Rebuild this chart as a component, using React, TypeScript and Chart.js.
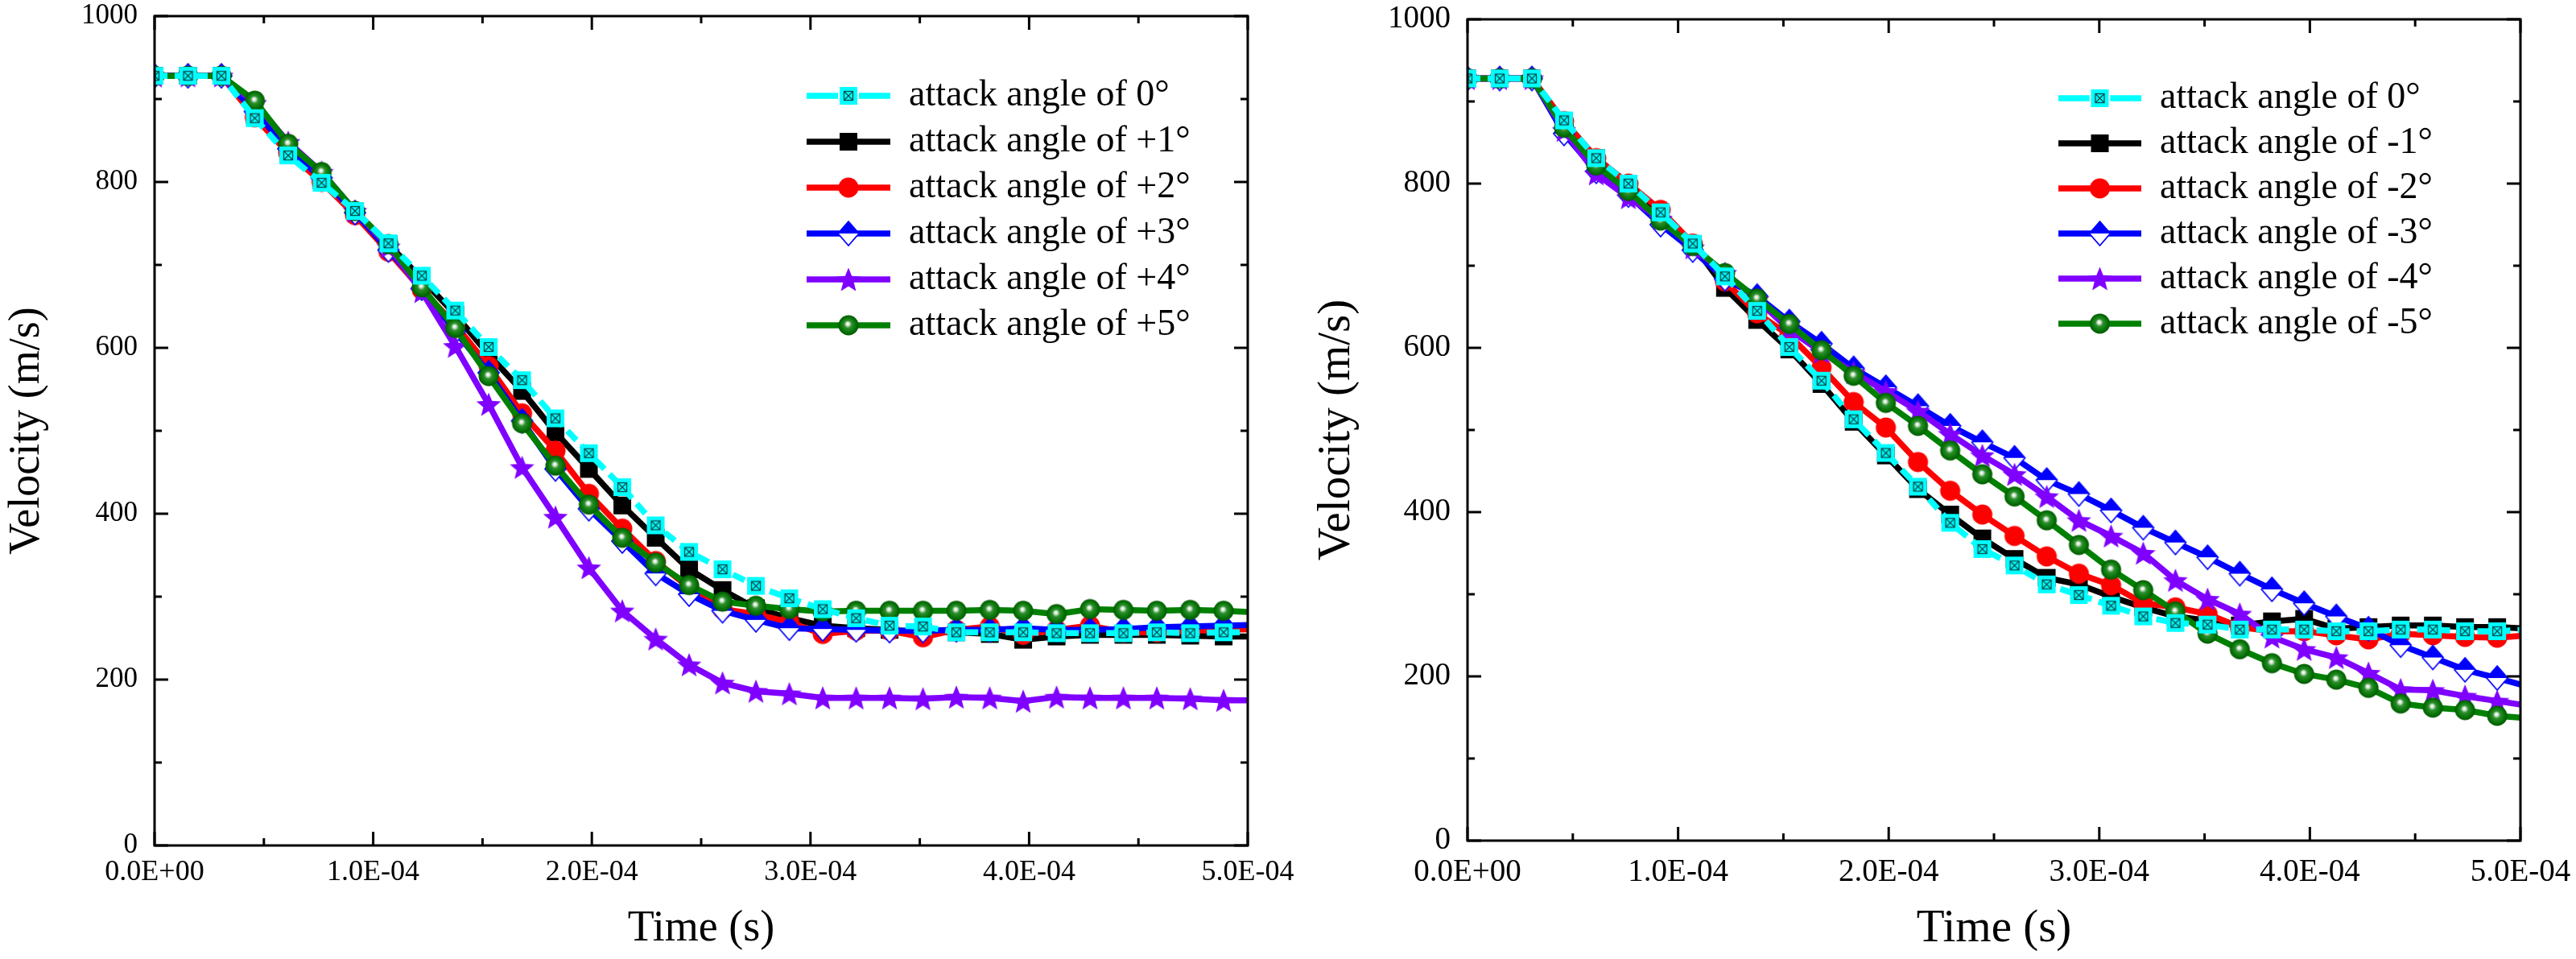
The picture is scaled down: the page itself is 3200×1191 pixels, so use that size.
import React, { useEffect, useRef } from 'react';
import { Chart, registerables } from 'chart.js';

Chart.register(...registerables);

// ---------------- data ----------------
const TIME_S = [
  0, 1.528e-5, 3.056e-5, 4.584e-5, 6.112e-5, 7.64e-5, 9.168e-5, 1.0696e-4, 1.2224e-4, 1.3752e-4,
  1.528e-4, 1.6808e-4, 1.8336e-4, 1.9864e-4, 2.1392e-4, 2.292e-4, 2.4448e-4, 2.5976e-4, 2.7504e-4,
  2.9032e-4, 3.056e-4, 3.2088e-4, 3.3616e-4, 3.5144e-4, 3.6672e-4, 3.82e-4, 3.9728e-4, 4.1256e-4,
  4.2784e-4, 4.4312e-4, 4.584e-4, 4.7368e-4, 4.8896e-4, 5.0424e-4,
];

const LEFT_LABELS = [
  'attack angle of 0°', 'attack angle of +1°', 'attack angle of +2°',
  'attack angle of +3°', 'attack angle of +4°', 'attack angle of +5°',
];
const RIGHT_LABELS = [
  'attack angle of 0°', 'attack angle of -1°', 'attack angle of -2°',
  'attack angle of -3°', 'attack angle of -4°', 'attack angle of -5°',
];

const LEFT_0 = [928, 928, 928, 877, 832, 799, 765, 726, 687, 645, 601, 561, 515, 473, 432, 386, 354, 333, 313, 298, 285, 274, 265, 264, 257, 257, 257, 256, 256, 256, 257, 256, 257, 257];
const LEFT_P1 = [928, 928, 928, 880, 835, 802, 765, 725, 683, 640, 592, 548, 498, 454, 410, 371, 333, 308, 286, 274, 265, 262, 260, 257, 257, 255, 248, 252, 254, 254, 254, 253, 252, 252];
const LEFT_P2 = [928, 928, 928, 878, 835, 800, 760, 716, 670, 628, 578, 521, 476, 424, 382, 343, 311, 285, 279, 269, 255, 259, 259, 251, 260, 264, 254, 260, 265, 257, 257, 259, 260, 261];
const LEFT_P3 = [928, 928, 928, 885, 840, 805, 763, 718, 672, 620, 570, 512, 454, 406, 367, 328, 303, 283, 272, 262, 261, 260, 259, 259, 260, 260, 262, 260, 260, 261, 263, 264, 265, 266];
const LEFT_P4 = [928, 928, 928, 895, 848, 812, 765, 722, 668, 602, 532, 456, 396, 335, 283, 249, 218, 196, 186, 183, 178, 178, 178, 177, 179, 178, 174, 179, 178, 178, 178, 177, 175, 175];
const LEFT_P5 = [928, 928, 928, 898, 846, 812, 765, 725, 673, 624, 566, 509, 458, 411, 371, 341, 314, 294, 289, 285, 282, 283, 283, 283, 283, 284, 283, 279, 285, 284, 283, 284, 283, 281];

const RIGHT_0 = [928, 928, 928, 877, 831, 800, 765, 727, 687, 645, 601, 560, 513, 472, 431, 387, 355, 335, 312, 299, 286, 273, 265, 263, 257, 257, 257, 255, 255, 257, 257, 255, 255, 257];
const RIGHT_M1 = [928, 928, 928, 876, 831, 800, 765, 726, 673, 634, 598, 556, 510, 469, 428, 397, 368, 343, 320, 312, 297, 284, 273, 268, 262, 267, 270, 258, 260, 262, 262, 260, 260, 258];
const RIGHT_M2 = [928, 928, 928, 876, 831, 800, 768, 727, 681, 642, 615, 576, 534, 503, 461, 426, 397, 371, 346, 325, 311, 289, 284, 276, 260, 255, 255, 250, 245, 252, 250, 248, 247, 250];
const RIGHT_M3 = [928, 928, 928, 861, 815, 786, 750, 719, 684, 663, 632, 605, 575, 552, 529, 505, 485, 466, 439, 422, 402, 381, 363, 345, 325, 306, 289, 273, 258, 238, 223, 208, 198, 187];
const RIGHT_M4 = [928, 928, 928, 865, 812, 783, 757, 722, 691, 659, 622, 595, 570, 547, 523, 495, 469, 446, 419, 390, 371, 350, 317, 294, 276, 248, 233, 223, 204, 184, 183, 176, 170, 164];
const RIGHT_M5 = [928, 928, 928, 868, 822, 791, 755, 724, 691, 660, 629, 597, 566, 533, 505, 475, 446, 419, 390, 360, 330, 305, 279, 252, 233, 216, 203, 196, 186, 167, 162, 159, 152, 149];

const X_MAJOR = [0, 1e-4, 2e-4, 3e-4, 4e-4, 5e-4];
const X_MINOR = [5e-5, 1.5e-4, 2.5e-4, 3.5e-4, 4.5e-4];
const Y_MAJOR = [0, 200, 400, 600, 800, 1000];
const Y_MINOR = [100, 300, 500, 700, 900];
const X_TITLE = 'Time (s)';
const Y_TITLE = 'Velocity (m/s)';

// ---------------- styles ----------------
const COLORS = ['#00FFFF', '#000000', '#FF0000', '#0000FF', '#8000FF', '#008000'];
const DRAW_ORDER = [0, 5, 4, 3, 2, 1];
const FONT = 'Liberation Serif';
const LINE_W = 7.5;

function paintMarker(ctx: CanvasRenderingContext2D, kind: number, cx: number, cy: number) {
  ctx.save();
  switch (kind) {
    case 0: {
      const s = 22;
      ctx.fillStyle = '#00FFFF';
      ctx.fillRect(cx - s / 2, cy - s / 2, s, s);
      ctx.strokeStyle = '#0a4a4a';
      ctx.lineWidth = 1.3;
      const a = 5.5;
      ctx.strokeRect(cx - a, cy - a, 2 * a, 2 * a);
      ctx.beginPath();
      ctx.moveTo(cx - a, cy - a); ctx.lineTo(cx + a, cy + a);
      ctx.moveTo(cx + a, cy - a); ctx.lineTo(cx - a, cy + a);
      ctx.stroke();
      break;
    }
    case 1: {
      ctx.fillStyle = '#000';
      ctx.fillRect(cx - 11, cy - 11, 22, 22);
      break;
    }
    case 2: {
      ctx.fillStyle = '#FF0000';
      ctx.beginPath(); ctx.arc(cx, cy, 12.5, 0, Math.PI * 2); ctx.fill();
      break;
    }
    case 3: {
      const w = 13, h = 15;
      ctx.beginPath();
      ctx.moveTo(cx, cy - h); ctx.lineTo(cx + w, cy); ctx.lineTo(cx, cy + h); ctx.lineTo(cx - w, cy); ctx.closePath();
      ctx.fillStyle = '#fff'; ctx.fill();
      ctx.beginPath();
      ctx.moveTo(cx, cy - h); ctx.lineTo(cx + w, cy); ctx.lineTo(cx - w, cy); ctx.closePath();
      ctx.fillStyle = '#0000FF'; ctx.fill();
      ctx.beginPath();
      ctx.moveTo(cx, cy - h); ctx.lineTo(cx + w, cy); ctx.lineTo(cx, cy + h); ctx.lineTo(cx - w, cy); ctx.closePath();
      ctx.strokeStyle = '#0000FF'; ctx.lineWidth = 1.8; ctx.stroke();
      break;
    }
    case 4: {
      const R = 16, r = 7;
      ctx.beginPath();
      for (let i = 0; i < 10; i++) {
        const ang = -Math.PI / 2 + (i * Math.PI) / 5;
        const rad = i % 2 === 0 ? R : r;
        const px = cx + rad * Math.cos(ang), py = cy + 1.5 + rad * Math.sin(ang);
        if (i === 0) ctx.moveTo(px, py); else ctx.lineTo(px, py);
      }
      ctx.closePath();
      ctx.fillStyle = '#8000FF'; ctx.fill();
      break;
    }
    case 5: {
      const g = ctx.createRadialGradient(cx - 1, cy - 2, 0.3, cx, cy, 12.5);
      g.addColorStop(0, '#ffffff');
      g.addColorStop(0.14, '#d6e9d6');
      g.addColorStop(0.36, '#2e8f2e');
      g.addColorStop(0.7, '#0b780b');
      g.addColorStop(1, '#005800');
      ctx.fillStyle = g;
      ctx.beginPath(); ctx.arc(cx, cy, 12.5, 0, Math.PI * 2); ctx.fill();
      break;
    }
  }
  ctx.restore();
}

function markerImage(kind: number): HTMLCanvasElement {
  const c = document.createElement('canvas');
  c.width = 38; c.height = 38;
  paintMarker(c.getContext('2d')!, kind, 19, 19);
  return c;
}

function legendImage(kind: number, w: number): HTMLCanvasElement {
  const c = document.createElement('canvas');
  c.width = w; c.height = 38;
  const ctx = c.getContext('2d')!;
  ctx.strokeStyle = COLORS[kind];
  ctx.lineWidth = 7.5;
  ctx.beginPath();
  if (kind === 0) {
    ctx.moveTo(0, 19); ctx.lineTo(w * 0.375, 19);
    ctx.moveTo(w * 0.625, 19); ctx.lineTo(w, 19);
  } else {
    ctx.moveTo(0, 19); ctx.lineTo(w, 19);
  }
  ctx.stroke();
  paintMarker(ctx, kind, w / 2, 19);
  return c;
}

const fmtExp = (v: number) => {
  const [m, e] = Number(v).toExponential(1).split('e');
  const n = parseInt(e, 10);
  return `${m}E${n < 0 ? '-' : '+'}${String(Math.abs(n)).padStart(2, '0')}`;
};

const innerFrame = {
  id: 'innerFrame',
  afterDraw(chart: any) {
    const { ctx, chartArea: a, scales } = chart;
    const xs = scales.x, ys = scales.y;
    ctx.save();
    ctx.strokeStyle = '#000';
    ctx.lineWidth = 3;
    ctx.lineCap = 'butt';
    const seg = (x1: number, y1: number, x2: number, y2: number) => {
      ctx.beginPath(); ctx.moveTo(x1, y1); ctx.lineTo(x2, y2); ctx.stroke();
    };
    const MAJ = 17, MIN = 9;
    const xt = (vals: number[], len: number) => vals.forEach((v) => {
      const px = xs.getPixelForValue(v);
      seg(px, a.bottom, px, a.bottom - len);
      seg(px, a.top, px, a.top + len);
    });
    const yt = (vals: number[], len: number) => vals.forEach((v) => {
      const py = ys.getPixelForValue(v);
      seg(a.left, py, a.left + len, py);
      seg(a.right, py, a.right - len, py);
    });
    xt(X_MAJOR, MAJ); xt(X_MINOR, MIN); yt(Y_MAJOR, MAJ); yt(Y_MINOR, MIN);
    ctx.strokeRect(a.left, a.top, a.right - a.left, a.bottom - a.top);
    ctx.restore();
  },
};

const legendPlacer = {
  id: 'legendPlacer',
  afterLayout(chart: any, _args: any, opts: any) {
    const lg = chart.legend;
    if (!lg) return;
    const w = lg.width, h = lg.height;
    lg.left = opts.x; lg.top = opts.y; lg.right = opts.x + w; lg.bottom = opts.y + h;
  },
};

interface PanelSpec {
  series: number[][];
  labels: string[];
  canvasX: number; canvasW: number;
  padTop: number; padRight: number;
  yAxisW: number; xAxisH: number;
  yTickFont: number; yTickPad: number;
  xTickFont: number; xTickPad: number;
  titleFont: number; yTitlePad: number; xTitlePad: number;
  legendX: number; legendY: number; legendPad: number; legendFont: number; legendBox: number;
}

const LEFT_SPEC: PanelSpec = {
  series: [LEFT_0, LEFT_P1, LEFT_P2, LEFT_P3, LEFT_P4, LEFT_P5],
  labels: LEFT_LABELS,
  canvasX: 0, canvasW: 1700,
  padTop: 20, padRight: 150,
  yAxisW: 192, xAxisH: 141,
  yTickFont: 35, yTickPad: 21,
  xTickFont: 36, xTickPad: 12,
  titleFont: 54, yTitlePad: 1, xTitlePad: 5,
  legendX: 991, legendY: 85, legendPad: 11, legendFont: 46, legendBox: 104,
};

const RIGHT_SPEC: PanelSpec = {
  series: [RIGHT_0, RIGHT_M1, RIGHT_M2, RIGHT_M3, RIGHT_M4, RIGHT_M5],
  labels: RIGHT_LABELS,
  canvasX: 1560, canvasW: 1640,
  padTop: 24, padRight: 69,
  yAxisW: 263, xAxisH: 147,
  yTickFont: 39, yTickPad: 21,
  xTickFont: 39, xTickPad: 16,
  titleFont: 57, yTitlePad: 67, xTitlePad: 3,
  legendX: 987, legendY: 89, legendPad: 10, legendFont: 46, legendBox: 103,
};

function buildConfig(spec: PanelSpec): any {
  const last = TIME_S.length - 1;
  const markers = COLORS.map((_, i) => markerImage(i));
  const legendIcons = COLORS.map((_, i) => legendImage(i, spec.legendBox));
  const datasets = spec.series.map((vals, i) => ({
    label: spec.labels[i],
    data: TIME_S.map((t, k) => ({ x: t, y: vals[k] })),
    borderColor: COLORS[i],
    backgroundColor: COLORS[i],
    borderWidth: LINE_W,
    borderDash: i === 0 ? [16, 9] : [],
    borderCapStyle: 'butt',
    borderJoinStyle: 'miter',
    tension: 0,
    fill: false,
    pointStyle: markers[i],
    pointRadius: (c: any) => (c.dataIndex === last ? 0 : 11),
    pointBorderWidth: 0,
    pointHoverRadius: 0,
    order: DRAW_ORDER[i],
  }));
  return {
    type: 'line',
    data: { datasets },
    plugins: [legendPlacer, innerFrame],
    options: {
      responsive: false,
      animation: false,
      events: [],
      layout: { padding: { left: 0, top: spec.padTop, right: spec.padRight, bottom: 0 } },
      scales: {
        x: {
          type: 'linear',
          min: 0,
          max: 5e-4,
          afterBuildTicks: (s: any) => { s.ticks = X_MAJOR.map((v) => ({ value: v })); },
          afterFit: (s: any) => { s.height = spec.xAxisH; s.paddingLeft = 0; s.paddingRight = 0; },
          grid: { display: false, drawTicks: false },
          border: { display: false },
          ticks: {
            callback: (v: any) => fmtExp(Number(v)),
            font: { family: FONT, size: spec.xTickFont },
            color: '#000',
            padding: spec.xTickPad,
            maxRotation: 0,
            minRotation: 0,
            autoSkip: false,
          },
          title: {
            display: true,
            text: X_TITLE,
            color: '#000',
            font: { family: FONT, size: spec.titleFont },
            padding: { top: 0, bottom: spec.xTitlePad },
          },
        },
        y: {
          type: 'linear',
          min: 0,
          max: 1000,
          afterBuildTicks: (s: any) => { s.ticks = Y_MAJOR.map((v) => ({ value: v })); },
          afterFit: (s: any) => { s.width = spec.yAxisW; s.paddingTop = 0; s.paddingBottom = 0; },
          grid: { display: false, drawTicks: false },
          border: { display: false },
          ticks: {
            callback: (v: any) => String(v),
            font: { family: FONT, size: spec.yTickFont },
            color: '#000',
            padding: spec.yTickPad,
            autoSkip: false,
          },
          title: {
            display: true,
            text: Y_TITLE,
            color: '#000',
            font: { family: FONT, size: spec.titleFont },
            padding: { top: spec.yTitlePad, bottom: 0 },
          },
        },
      },
      plugins: {
        tooltip: { enabled: false },
        legendPlacer: { x: spec.legendX, y: spec.legendY },
        legend: {
          display: true,
          position: 'chartArea',
          align: 'start',
          labels: {
            usePointStyle: true,
            pointStyleWidth: spec.legendBox,
            padding: spec.legendPad,
            color: '#000',
            font: { family: FONT, size: spec.legendFont },
            generateLabels: (chart: any) => chart.data.datasets.map((ds: any, i: number) => ({
              text: ds.label,
              pointStyle: legendIcons[i],
              fillStyle: 'rgba(0,0,0,0)',
              strokeStyle: 'rgba(0,0,0,0)',
              lineWidth: 0,
              hidden: false,
              datasetIndex: i,
              fontColor: '#000',
              textAlign: 'left',
            })),
          },
        },
      },
    },
  };
}

function Panel({ spec }: { spec: PanelSpec }) {
  const ref = useRef<HTMLCanvasElement | null>(null);
  useEffect(() => {
    if (!ref.current) return;
    const chart = new Chart(ref.current, buildConfig(spec));
    return () => chart.destroy();
  }, [spec]);
  return (
    <canvas
      ref={ref}
      width={spec.canvasW}
      height={1191}
      style={{ position: 'absolute', left: spec.canvasX, top: 0, width: spec.canvasW, height: 1191 }}
    />
  );
}

export default function App() {
  return (
    <div style={{ position: 'absolute', left: 0, top: 0, width: 3200, height: 1191, background: '#fff', overflow: 'hidden' }}>
      <Panel spec={LEFT_SPEC} />
      <Panel spec={RIGHT_SPEC} />
    </div>
  );
}
